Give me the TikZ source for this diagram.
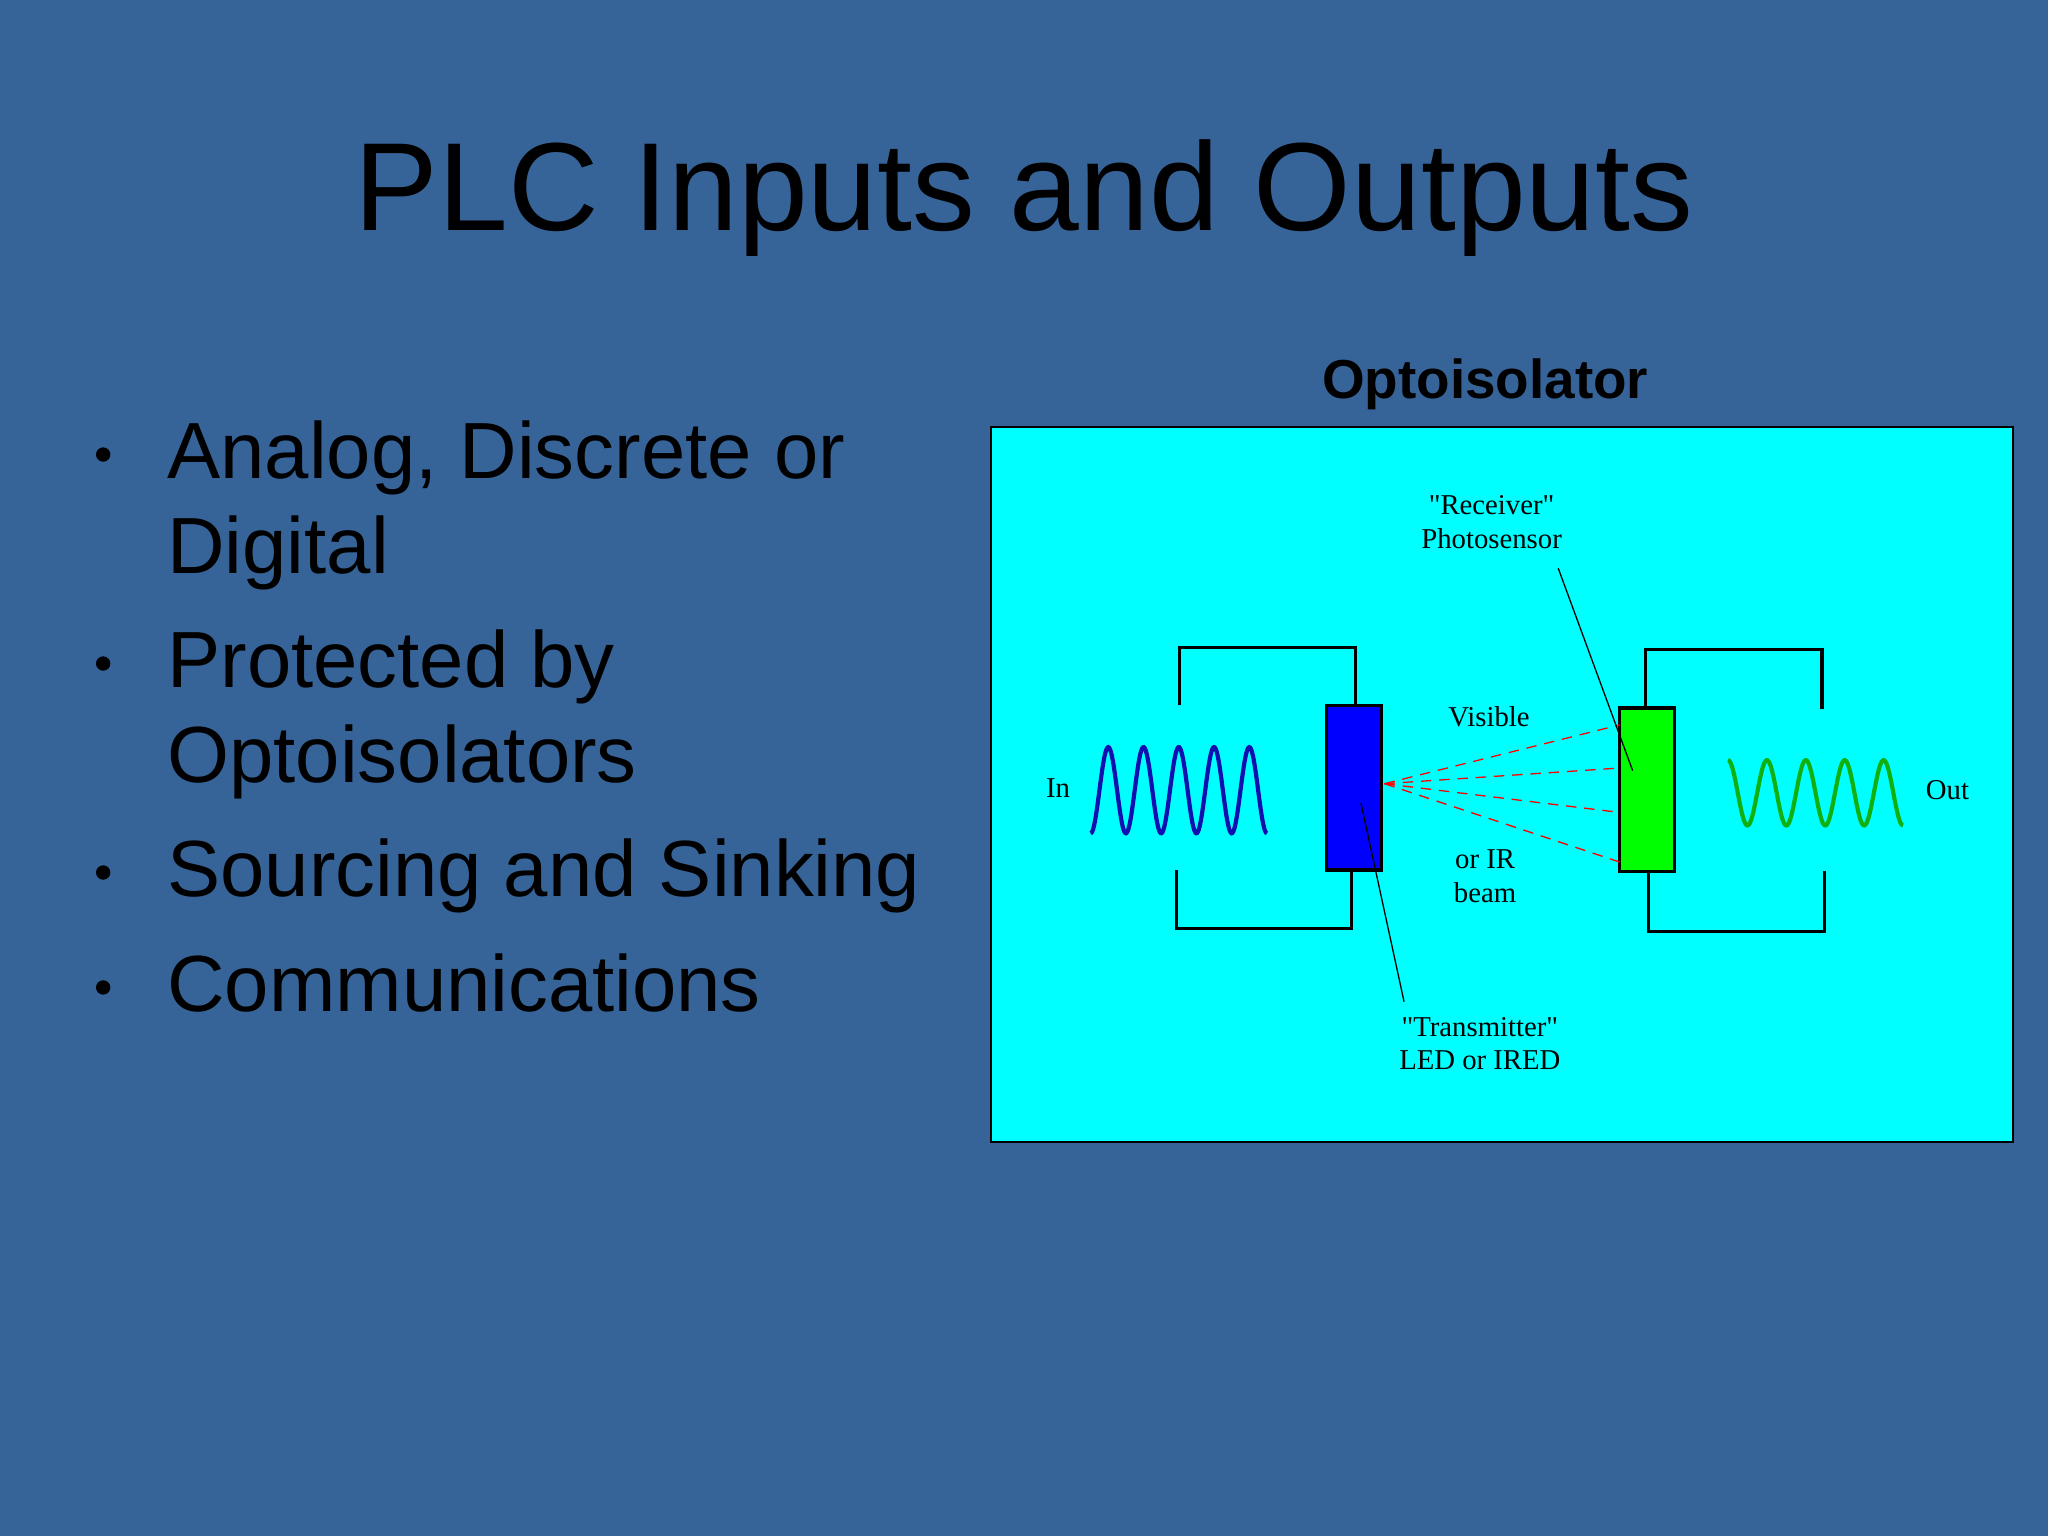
\documentclass[tikz,border=0pt]{standalone}
\usepackage{fontspec}
\setmainfont{Liberation Sans}
\newfontfamily\serifb{Liberation Serif}
\definecolor{bg}{HTML}{366499}
\definecolor{cy}{HTML}{00FFFF}
\definecolor{wblue}{HTML}{1010B0}
\definecolor{wgreen}{HTML}{10B010}
\begin{document}
\begin{tikzpicture}[x=1pt,y=-1pt,
  wire/.style={line width=2.5pt},
  lbl/.style={font=\serifb\fontsize{22}{26}\selectfont,align=center,inner sep=0},
  bul/.style={font=\fontsize{61}{73}\selectfont,anchor=north west,align=left,inner sep=0}]
\fill[bg] (0,0) rectangle (1568,1176);
\useasboundingbox (0,0) rectangle (1568,1176);
\node[font=\fontsize{96}{110}\selectfont] (title) at (784,152) {PLC Inputs and Outputs};
\foreach \t/\y [count=\i] in {{Analog, Discrete or\\Digital}/370,{Protected by\\Optoisolators}/530,{Sourcing and Sinking}/690,{Communications}/778}{
  \node[bul] (b\i) at (128,\y-48) {\t};
  \fill (79,\y-22) circle (5.5);
}
\node[font=\bfseries\fontsize{42}{48}\selectfont] (ot) at (1137,294) {Optoisolator};
\draw[fill=cy,line width=1.5pt] (759,327) rectangle (1541,874);
\draw[wire] (903,540) -- (903,496) -- (1038,496) -- (1038,540);
\draw[wire] (901,666) -- (901,711) -- (1035,711) -- (1035,666);
\draw[wire] (1260,542) -- (1260,497) -- (1395,497) -- (1395,543);
\draw[wire] (1262,667) -- (1262,713) -- (1397,713) -- (1397,667);
\node[draw,line width=2.5pt,fill=blue,minimum width=42pt,minimum height=126pt,inner sep=0] (tx) at (1036.5,603) {};
\node[draw,line width=2.5pt,fill=green,minimum width=42pt,minimum height=125pt,inner sep=0] (rx) at (1261,604.5) {};
\draw[wblue,line width=3.2pt,domain=0:135,samples=200] plot ({835+\x},{605-33*sin(\x/135*5*360-90)});
\draw[wgreen,line width=3.2pt,domain=0:134,samples=200] plot ({1323+\x},{607-25*sin(\x/134*4.5*360+90)});
\coordinate (src) at (1060,600);
\foreach \yy in {555,588,622,660}
  \draw[red,line width=1pt,dash pattern=on 8pt off 6pt] (src) -- (1240,\yy);
\node[lbl] (in) at (810,603) {In};
\node[lbl] (out) at (1491,605) {Out};
\node[lbl] (vis) at (1140,549) {Visible};
\node[lbl] (ir) at (1137,671) {or IR\\beam};
\node[lbl] (rcv) at (1142,400) {"Receiver"\\Photosensor};
\node[lbl] (trn) at (1133,799) {"Transmitter"\\LED or IRED};
\draw[line width=1pt] (1193,435) -- (1250,590);
\draw[line width=1pt] (1075,767) -- (1042,615);
\end{tikzpicture}
\end{document}
